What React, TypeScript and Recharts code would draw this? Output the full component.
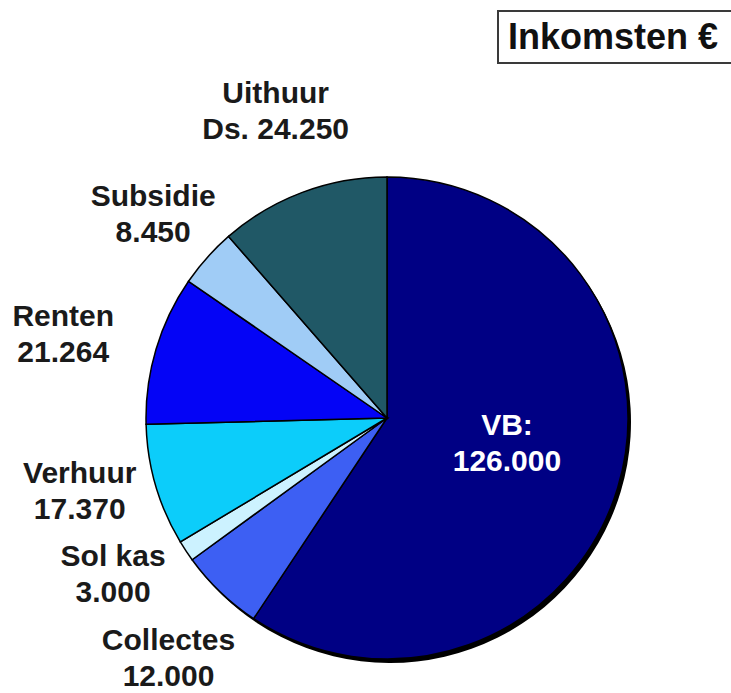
import { PieChart, Pie, Cell } from 'recharts';

const names = ['VB', 'Collectes', 'Sol kas', 'Verhuur', 'Renten', 'Subsidie', 'Uithuur'];
const titles = ['VB:', 'Collectes', 'Sol kas', 'Verhuur', 'Renten', 'Subsidie', 'Uithuur'];
const prefixes = ['', '', '', '', '', '', 'Ds. '];
const values = [126000, 12000, 3000, 17370, 21264, 8450, 24250];

const colors = ['#000084', '#3d5ff3', '#ccf2ff', '#0ccdfa', '#0404f6', '#a0ccf6', '#205866'];

// small hand nudges so the labels sit where the original put them
const nudges: Record<string, [number, number]> = {
  'VB': [0, -12],
  'Collectes': [3, 8],
  'Sol kas': [-7, -22],
  'Verhuur': [0, -17],
  'Renten': [-17, 6],
  'Subsidie': [5, 8],
  'Uithuur': [1, -8],
};

const data = names.map((name, i) => ({ name, value: values[i], title: titles[i], prefix: prefixes[i] }));

const fmt = (v: number) => v.toLocaleString('de-DE').replace(/,/g, '.');

const RADIAN = Math.PI / 180;
const FONT = '"Liberation Sans", Arial, sans-serif';

function renderLabel(props: any) {
  const { cx, cy, midAngle, outerRadius, index } = props;
  const d = data[index];
  const inside = d.name === 'VB';
  const r = inside ? outerRadius * 0.52 : outerRadius + 79;
  const [nx, ny] = nudges[d.name] || [0, 0];
  const x = cx + r * Math.cos(-midAngle * RADIAN) + nx;
  const y = cy + r * Math.sin(-midAngle * RADIAN) + ny;
  return (
    <text
      key={d.name}
      x={x}
      y={y}
      textAnchor="middle"
      fill={inside ? '#ffffff' : '#1a1a1a'}
      fontFamily={FONT}
      fontWeight="bold"
      fontSize={30}
    >
      <tspan x={x} y={y - 7}>{d.title}</tspan>
      <tspan x={x} y={y + 29}>{d.prefix + fmt(d.value)}</tspan>
    </text>
  );
}

export default function App() {
  return (
    <div style={{ position: 'absolute', left: 0, top: 0, width: 731, height: 693, overflow: 'hidden', background: '#fff' }}>
      <PieChart width={731} height={693} margin={{ top: 0, right: 0, bottom: 0, left: 0 }}>
        <Pie
          data={data}
          dataKey="value"
          cx={390}
          cy={422}
          outerRadius={241}
          startAngle={90}
          endAngle={-270}
          stroke="none"
          isAnimationActive={false}
        >
          {data.map((d) => (
            <Cell key={d.name} fill="#000000" />
          ))}
        </Pie>
        <Pie
          data={data}
          dataKey="value"
          cx={387}
          cy={418}
          outerRadius={241}
          startAngle={90}
          endAngle={-270}
          stroke="#000000"
          strokeWidth={1.5}
          label={renderLabel}
          labelLine={false}
          isAnimationActive={false}
        >
          {data.map((d, i) => (
            <Cell key={d.name} fill={colors[i]} />
          ))}
        </Pie>
      </PieChart>
      <div
        style={{
          position: 'absolute',
          left: 497,
          top: 10,
          width: 250,
          height: 50,
          border: '2px solid #3a3a3a',
          background: '#fff',
          fontFamily: FONT,
          fontWeight: 'bold',
          fontSize: 36,
          lineHeight: '50px',
          paddingLeft: 9,
          color: '#111',
          boxSizing: 'content-box',
          whiteSpace: 'nowrap',
        }}
      >
        Inkomsten €
      </div>
    </div>
  );
}
